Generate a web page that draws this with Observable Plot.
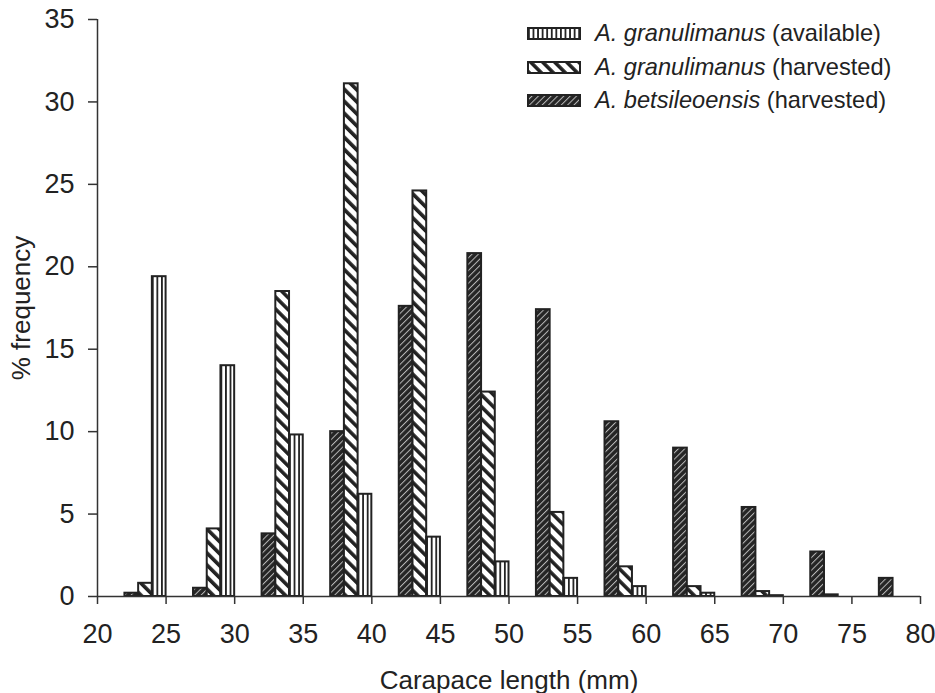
<!DOCTYPE html>
<html>
<head>
<meta charset="utf-8">
<script src="https://cdn.jsdelivr.net/npm/d3@7"></script>
<script src="https://cdn.jsdelivr.net/npm/@observablehq/plot@0.6"></script>
<style>
  html, body { margin: 0; padding: 0; background: #fff; }
  #wrap { position: relative; width: 935px; height: 693px; font-family: "Liberation Sans", Arial, sans-serif; color: #222; }
  #legend { position: absolute; left: 527px; top: 17px; font-size: 23.6px; }
  #legend .row { display: flex; align-items: center; height: 33.5px; }
  #legend svg { margin-right: 14px; }
</style>
</head>
<body>
<svg width="0" height="0" style="position:absolute">
  <defs>
    <pattern id="pAvail" patternUnits="userSpaceOnUse" width="4.57" height="10">
      <rect width="4.57" height="10" fill="#fff"/>
      <rect x="0" width="1.8" height="10" fill="#222"/>
    </pattern>
    <pattern id="pHarv" patternUnits="userSpaceOnUse" width="8.5" height="8" patternTransform="rotate(-45)">
      <rect width="8.5" height="8" fill="#fff"/>
      <rect x="0" width="3.6" height="8" fill="#222"/>
    </pattern>
    <pattern id="pBets" patternUnits="userSpaceOnUse" width="4.5" height="8" patternTransform="rotate(45)">
      <rect width="4.5" height="8" fill="#252525"/>
      <rect x="0" width="1" height="8" fill="#b8b8b8"/>
    </pattern>
  </defs>
</svg>
<div id="wrap">
  <div id="chart"></div>
  <div id="legend">
    <div class="row"><svg width="54" height="13"><rect x="1" y="1" width="52" height="11" fill="url(#pAvail)" stroke="#222" stroke-width="2"/></svg><span><i>A. granulimanus</i> (available)</span></div>
    <div class="row"><svg width="54" height="13"><rect x="1" y="1" width="52" height="11" fill="url(#pHarv)" stroke="#222" stroke-width="2"/></svg><span><i>A. granulimanus</i> (harvested)</span></div>
    <div class="row"><svg width="54" height="13"><rect x="1" y="1" width="52" height="11" fill="url(#pBets)" stroke="#222" stroke-width="2"/></svg><span><i>A. betsileoensis</i> (harvested)</span></div>
  </div>
</div>
<script>
// Bin upper edges (mm)
const bins = [25, 30, 35, 40, 45, 50, 55, 60, 65, 70, 75, 80];
// % frequency per series
const betsileoensisHarvested = [0.2, 0.5, 3.8, 10.0, 17.6, 20.8, 17.4, 10.6, 9.0, 5.4, 2.7, 1.1];
const granulimanusHarvested  = [0.8, 4.1, 18.5, 31.1, 24.6, 12.4, 5.1, 1.8, 0.6, 0.3, 0.1, 0];
const granulimanusAvailable  = [19.4, 14.0, 9.8, 6.2, 3.6, 2.1, 1.1, 0.6, 0.2, 0.05, 0, 0];
const xTicks = [20, 25, 30, 35, 40, 45, 50, 55, 60, 65, 70, 75, 80];
const yTicks = [0, 5, 10, 15, 20, 25, 30, 35];

const series = [
  {name: "betsileoensis", values: betsileoensisHarvested, offset: 3, fill: "url(#pBets)"},
  {name: "granulimanusH", values: granulimanusHarvested, offset: 2, fill: "url(#pHarv)"},
  {name: "granulimanusA", values: granulimanusAvailable, offset: 1, fill: "url(#pAvail)"}
];

function rows(s) {
  return bins.map((b, i) => ({x1: b - s.offset, x2: b - s.offset + 1, y: s.values[i]})).filter(d => d.y > 0);
}

const plot = Plot.plot({
  width: 935,
  height: 693,
  marginLeft: 97,
  marginRight: 15,
  marginTop: 19,
  marginBottom: 97,
  style: {fontFamily: "Liberation Sans, Arial, sans-serif", fontSize: "26px", color: "#222", background: "#fff"},
  x: {domain: [20, 80], ticks: xTicks, label: "Carapace length (mm)", labelAnchor: "center", labelArrow: "none"},
  y: {domain: [0, 35], ticks: yTicks, label: "% frequency", labelAnchor: "center", labelArrow: "none"},
  marks: [
    ...series.map(s => Plot.rectY(rows(s), {x1: "x1", x2: "x2", y1: 0, y2: "y", fill: s.fill, stroke: "#222", strokeWidth: 2, inset: 0})),
    Plot.axisX({ticks: xTicks, tickSize: 8, tickPadding: 19, stroke: "#333", strokeWidth: 1.5, label: null, fontSize: 27}),
    Plot.axisX({ticks: [], tickSize: 0, label: "Carapace length (mm)", labelAnchor: "center", labelOffset: 92, labelArrow: "none", fontSize: 26}),
    Plot.axisY({ticks: yTicks, tickSize: 9, tickPadding: 14, stroke: "#333", strokeWidth: 1.5, label: null, fontSize: 27}),
    Plot.axisY({ticks: [], tickSize: 0, label: "% frequency", labelAnchor: "center", labelOffset: 86, labelArrow: "none", fontSize: 26}),
    Plot.ruleY([0], {stroke: "#333", strokeWidth: 1.5}),
    Plot.ruleX([20], {stroke: "#333", strokeWidth: 1.5})
  ]
});
document.getElementById("chart").appendChild(plot);

// Align the vertical-stripe pattern to the bar grid (three stripes per bar width)
const xs = plot.scale("x");
const pxPerMm = xs.apply(21) - xs.apply(20);
const pa = document.getElementById("pAvail");
pa.setAttribute("width", pxPerMm / 3);
pa.setAttribute("patternTransform", `translate(${xs.apply(20)},0)`);
pa.querySelector("rect").setAttribute("width", pxPerMm / 3);
</script>
</body>
</html>
